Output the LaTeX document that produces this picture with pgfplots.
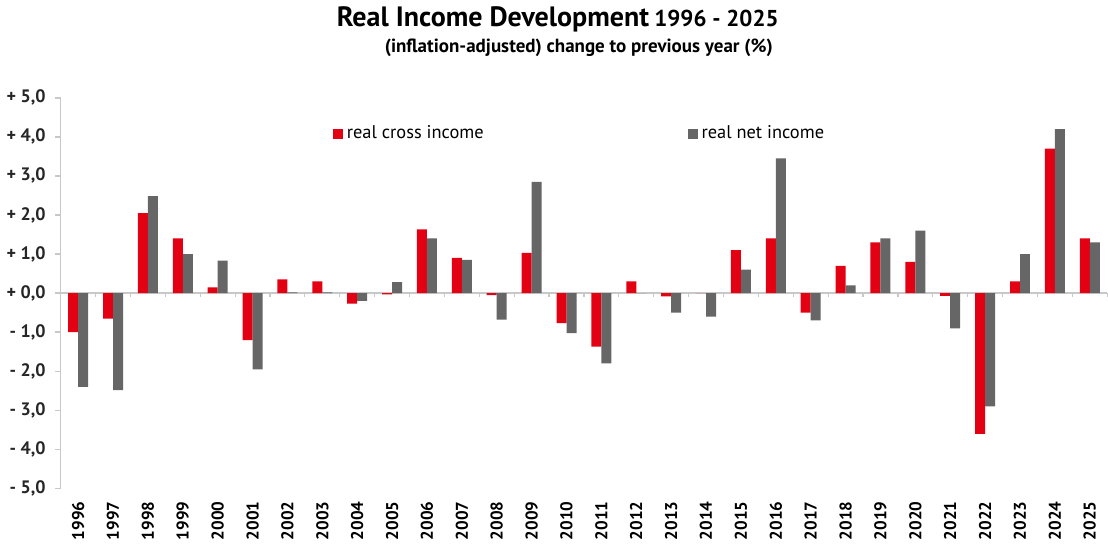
\documentclass[border=0pt]{standalone}
\usepackage{fontspec}
\setmainfont{PT Sans}
\usepackage{pgfplots}
\pgfplotsset{compat=1.18}
\definecolor{barred}{RGB}{226, 0, 18}
\definecolor{bargray}{RGB}{102, 102, 102}
\definecolor{axisgray}{RGB}{200, 200, 200}

\pgfplotstableread{
x  year  gross  net
0  1996  -1.00  -2.40
1  1997  -0.65  -2.48
2  1998   2.05   2.48
3  1999   1.40   1.00
4  2000   0.15   0.83
5  2001  -1.20  -1.95
6  2002   0.35   0.02
7  2003   0.30   0.02
8  2004  -0.27  -0.20
9  2005  -0.03   0.28
10 2006   1.63   1.40
11 2007   0.90   0.85
12 2008  -0.05  -0.68
13 2009   1.03   2.85
14 2010  -0.77  -1.02
15 2011  -1.37  -1.80
16 2012   0.30   0.00
17 2013  -0.08  -0.50
18 2014   0.00  -0.60
19 2015   1.10   0.60
20 2016   1.40   3.45
21 2017  -0.50  -0.70
22 2018   0.70   0.20
23 2019   1.30   1.40
24 2020   0.80   1.60
25 2021  -0.07  -0.90
26 2022  -3.60  -2.90
27 2023   0.30   1.00
28 2024   3.70   4.20
29 2025   1.40   1.30
}\income

\begin{document}
\begin{tikzpicture}
\begin{axis}[
  scale only axis,
  width=523.5pt, height=195.5pt,
  ybar=0pt, bar width=5pt,
  xmin=-0.5, xmax=29.5,
  ymin=-5, ymax=5,
  axis y line*=left,
  axis x line*=bottom,
  x axis line style={draw=none},
  y axis line style={draw=axisgray, line width=0.8pt},
  ytick={-5,-4,...,5},
  yticklabels={- 5{,}0,- 4{,}0,- 3{,}0,- 2{,}0,- 1{,}0,+ 0{,}0,+ 1{,}0,+ 2{,}0,+ 3{,}0,+ 4{,}0,+ 5{,}0},
  ytick style={draw=axisgray, line width=0.8pt},
  major tick length=3pt,
  tick align=outside,
  yticklabel style={font=\fontsize{9}{10}\selectfont\bfseries, text=black!85, xshift=-1pt},
  xtick=data,
  xticklabels from table={\income}{year},
  xtick style={draw=none},
  xticklabel style={rotate=90, anchor=east, font=\fontsize{8.5}{9}\selectfont\bfseries},
  extra y ticks={0},
  extra y tick style={grid=major, major grid style={draw=axisgray, line width=0.8pt}, yticklabels={}, ytick style={draw=none}},
  legend columns=2,
  legend style={draw=none, fill=none, at={(0.254,0.908)}, anchor=west,
    font=\fontsize{9.2}{10}\selectfont, /tikz/every even column/.append style={column sep=100pt}},
  legend image code/.code={\fill[#1] (0pt,-2.5pt) rectangle (5pt,2.5pt);},
  title={{\fontsize{14}{16}\selectfont\bfseries Real Income Development} {\fontsize{11.5}{14}\selectfont\bfseries 1996 - 2025}\\[1pt]\hspace*{21pt}{\fontsize{9.5}{11}\selectfont\bfseries (inflation-adjusted) change to previous year (\%)}},
  title style={at={(0.475,1)}, anchor=south, align=center, yshift=11pt},
  clip=false,
]
\addplot[draw=none, fill=barred] table[x=x, y=gross] {\income};
\addplot[draw=none, fill=bargray] table[x=x, y=net] {\income};
\pgfplotsinvokeforeach{0,...,30}{
  \draw[axisgray, line width=0.6pt] (axis cs:#1-0.5,0) -- ++(0pt,-2pt);
}
\legend{real cross income, real net income}
\end{axis}
\end{tikzpicture}
\end{document}
